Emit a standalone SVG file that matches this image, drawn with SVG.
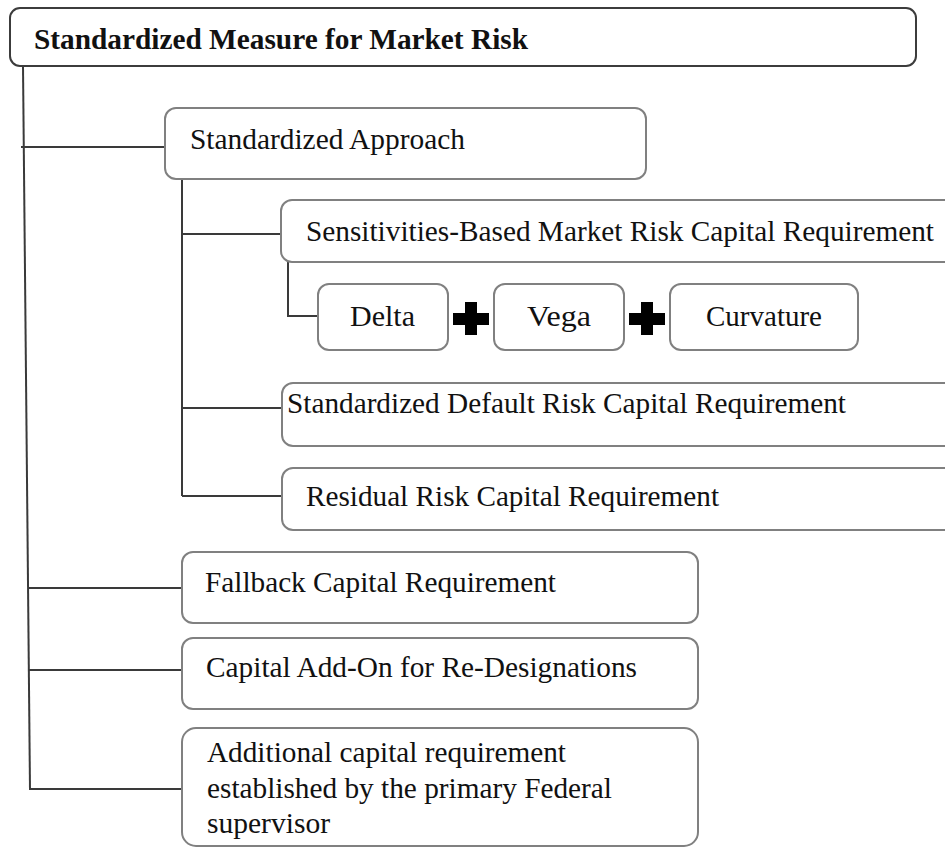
<svg xmlns="http://www.w3.org/2000/svg" width="945" height="848" viewBox="0 0 945 848">
<style>
.box{fill:#fff;stroke:#808080;stroke-width:2}
.top{fill:#fff;stroke:#3c3c3c;stroke-width:2}
text{font-family:'Liberation Serif','Times New Roman',Tinos,Times,serif;font-size:30px;fill:#111}
.b{font-weight:bold}
.c{fill:none;stroke:#3a3a3a;stroke-width:2}
.plus{fill:#000}
</style>
<rect width="945" height="848" fill="#fff"/>
<g id="connectors">
<path class="c" d="M23,66 L30,790"/>
<path class="c" d="M21,147 H165"/>
<path class="c" d="M28.5,588 H182"/>
<path class="c" d="M29,670 H182"/>
<path class="c" d="M30,789 H182"/>
<path class="c" d="M182,179 V496"/>
<path class="c" d="M182,234 H281"/>
<path class="c" d="M182,408 H282"/>
<path class="c" d="M182,496 H282"/>
<path class="c" d="M288,262 V316 H318"/>
</g>
<g id="n-root">
<rect class="top" x="10" y="8" width="906" height="58" rx="10"/>
<text class="b" x="34" y="49" textLength="494" lengthAdjust="spacingAndGlyphs">Standardized Measure for Market Risk</text>
</g>
<g id="n-sa">
<rect class="box" x="165" y="108" width="481" height="71" rx="11"/>
<text x="190" y="149" textLength="275" lengthAdjust="spacingAndGlyphs">Standardized Approach</text>
</g>
<g id="n-sens">
<rect class="box" x="281" y="200" width="700" height="62" rx="11"/>
<text x="306" y="241" textLength="628" lengthAdjust="spacingAndGlyphs">Sensitivities-Based Market Risk Capital Requirement</text>
</g>
<g id="n-delta">
<rect class="box" x="318" y="284" width="130" height="66" rx="11"/>
<text x="350" y="326" textLength="65" lengthAdjust="spacingAndGlyphs">Delta</text>
</g>
<g id="plus1"><path class="plus" d="M465,302 h12 v11 h12 v12 h-12 v10 h-12 v-10 h-12 v-12 h12 z"/></g>
<g id="n-vega">
<rect class="box" x="494" y="284" width="130" height="66" rx="11"/>
<text x="527" y="326" textLength="64" lengthAdjust="spacingAndGlyphs">Vega</text>
</g>
<g id="plus2"><path class="plus" d="M641,302 h12 v11 h12 v12 h-12 v10 h-12 v-10 h-12 v-12 h12 z"/></g>
<g id="n-curv">
<rect class="box" x="670" y="284" width="188" height="66" rx="11"/>
<text x="706" y="326" textLength="116" lengthAdjust="spacingAndGlyphs">Curvature</text>
</g>
<g id="n-default">
<rect class="box" x="282" y="383" width="700" height="63" rx="11"/>
<text x="287" y="413" textLength="559" lengthAdjust="spacingAndGlyphs">Standardized Default Risk Capital Requirement</text>
</g>
<g id="n-residual">
<rect class="box" x="282" y="468" width="700" height="62" rx="11"/>
<text x="306" y="506" textLength="413" lengthAdjust="spacingAndGlyphs">Residual Risk Capital Requirement</text>
</g>
<g id="n-fallback">
<rect class="box" x="182" y="552" width="516" height="71" rx="11"/>
<text x="205" y="592" textLength="351" lengthAdjust="spacingAndGlyphs">Fallback Capital Requirement</text>
</g>
<g id="n-addon">
<rect class="box" x="182" y="638" width="516" height="71" rx="11"/>
<text x="206" y="677" textLength="431" lengthAdjust="spacingAndGlyphs">Capital Add-On for Re-Designations</text>
</g>
<g id="n-additional">
<rect class="box" x="182" y="728" width="516" height="118" rx="14"/>
<text x="207" y="762" textLength="359" lengthAdjust="spacingAndGlyphs">Additional capital requirement</text>
<text x="207" y="798" textLength="405" lengthAdjust="spacingAndGlyphs">established by the primary Federal</text>
<text x="207" y="833" textLength="123" lengthAdjust="spacingAndGlyphs">supervisor</text>
</g>
</svg>
